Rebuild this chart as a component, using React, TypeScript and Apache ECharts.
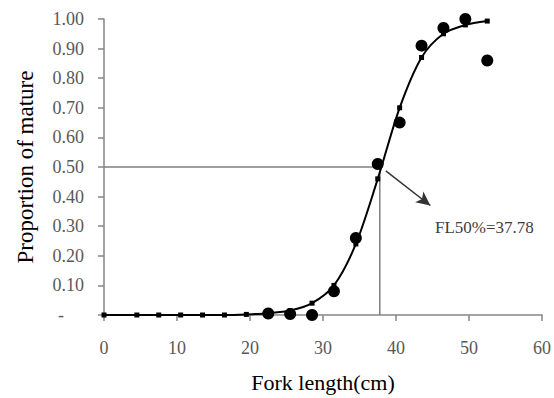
import React, { useEffect, useRef } from "react";
import * as echarts from "echarts";

// Fitted logistic curve
const fitLengths = [0, 4.5, 7.5, 10.5, 13.5, 16.5, 19.5, 22.5, 25.5, 28.5, 31.5, 34.5, 37.5, 40.5, 43.5, 46.5, 49.5, 52.5];
const fitValues = [0, 0, 0, 0, 0, 0, 0.002, 0.006, 0.015, 0.04, 0.1, 0.24, 0.46, 0.7, 0.87, 0.95, 0.98, 0.993];

// Observed proportions
const obsLengths = [22.5, 25.5, 28.5, 31.5, 34.5, 37.5, 40.5, 43.5, 46.5, 49.5, 52.5];
const obsValues = [0.005, 0.003, 0, 0.08, 0.26, 0.51, 0.65, 0.91, 0.97, 1.0, 0.86];

const L50 = 37.78;
const L50Label = "FL50%=37.78";
const xTicks = [0, 10, 20, 30, 40, 50, 60];

const FONT = "Liberation Serif";

export default function App() {
  const ref = useRef<HTMLDivElement>(null);
  useEffect(() => {
    if (!ref.current) return;
    const chart = echarts.init(ref.current, null, { renderer: "svg" });
    chart.setOption({
      animation: false,
      textStyle: { fontFamily: FONT },
      grid: { left: 104, right: 9, top: 19, bottom: 79 },
      xAxis: {
        type: "value",
        min: xTicks[0],
        max: xTicks[xTicks.length - 1],
        interval: 10,
        name: "Fork length(cm)",
        nameLocation: "middle",
        nameGap: 56,
        nameTextStyle: { fontFamily: FONT, fontSize: 22, color: "#000" },
        axisLine: { lineStyle: { color: "#868686", width: 1.5 } },
        axisTick: { show: true, length: 6, lineStyle: { color: "#868686", width: 1.5 } },
        axisLabel: { fontFamily: FONT, fontSize: 18, color: "#595959", margin: 24 },
        splitLine: { show: false },
      },
      yAxis: {
        type: "value",
        min: 0,
        max: 1,
        interval: 0.1,
        name: "Proportion of mature",
        nameLocation: "middle",
        nameGap: 67,
        nameTextStyle: { fontFamily: FONT, fontSize: 23, color: "#000" },
        axisLine: { show: true, lineStyle: { color: "#868686", width: 1.5 } },
        axisTick: { show: true, length: 6, lineStyle: { color: "#868686", width: 1.5 } },
        axisLabel: {
          fontFamily: FONT,
          fontSize: 18,
          color: "#595959",
          margin: 20,
          formatter: (v: number) => (Math.abs(v) < 1e-9 ? "{d|-}" : v.toFixed(2)),
          rich: { d: { fontFamily: FONT, fontSize: 18, color: "#595959", padding: [0, 20, 0, 0] } },
        },
        splitLine: { show: false },
      },
      series: [
        {
          type: "line",
          data: [[0, 0.5], [L50, 0.5], [L50, 0]],
          symbol: "none",
          lineStyle: { color: "#7f7f7f", width: 1.5 },
          z: 1,
        },
        {
          type: "line",
          data: fitLengths.map((x, i) => [x, fitValues[i]]),
          symbol: "rect",
          symbolSize: 5,
          itemStyle: { color: "#000" },
          lineStyle: { color: "#000", width: 2 },
          smooth: 0.3,
          z: 3,
          markLine: {
            silent: true,
            symbol: ["none", "arrow"],
            symbolSize: [10, 14],
            lineStyle: { color: "#333", width: 1.5, type: "solid" },
            label: { show: false },
            data: [[{ coord: [38.6, 0.487] }, { coord: [44.7, 0.37] }]],
          },
        },
        {
          type: "scatter",
          data: obsLengths.map((x, i) => [x, obsValues[i]]),
          symbol: "circle",
          symbolSize: 12,
          itemStyle: { color: "#000", opacity: 1 },
          z: 4,
        },
      ],
      graphic: [
        {
          type: "text",
          left: 435,
          top: 219,
          style: { text: L50Label, font: "17px " + FONT, fill: "#404040" },
        },
      ],
    });
    return () => chart.dispose();
  }, []);
  return <div ref={ref} style={{ width: 554, height: 398, position: "absolute", left: 0, top: 0 }} />;
}
